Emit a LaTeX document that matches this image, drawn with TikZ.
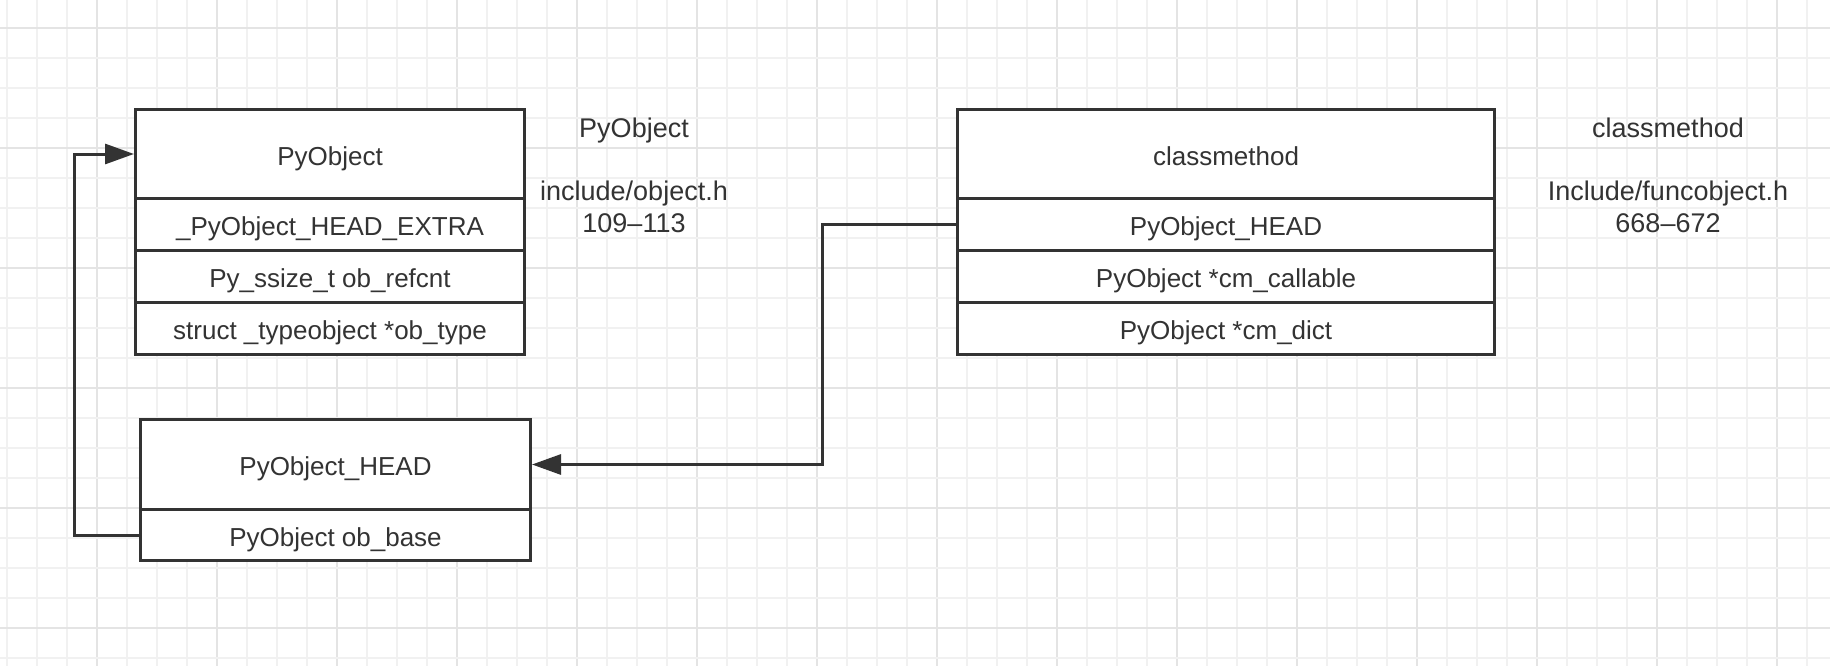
\documentclass[tikz,border=0pt]{standalone}
\usepackage{fontspec}
\setmainfont{Liberation Sans}
\usetikzlibrary{arrows.meta}
\definecolor{ink}{HTML}{333333}
\definecolor{gridminor}{HTML}{F1F1F1}
\definecolor{gridmajor}{HTML}{E4E4E4}
\tikzset{
  cell/.style={draw=ink, fill=white, line width=3pt, inner sep=0pt, anchor=north west,
    text=ink, font=\fontsize{26}{31}\selectfont, text height=22pt, text depth=0pt},
  note/.style={inner sep=0pt, anchor=base, text=ink, font=\fontsize{27}{32.5}\selectfont},
  conn/.style={draw=ink, line width=3pt, -{Triangle[length=29pt,width=20pt]}},
  wire/.style={draw=ink, line width=3pt}
}
\begin{document}
\begin{tikzpicture}[x=1pt,y=-1pt]
\useasboundingbox (0,0) rectangle (1830,666);
\fill[white] (0,0) rectangle (1830,666);
% grid
\foreach \i in {0,...,60} {
  \pgfmathtruncatemacro{\m}{mod(\i,4)}
  \ifnum\m=3
    \draw[gridmajor, line width=1.6pt] ({7+30*\i},0) -- ({7+30*\i},666);
  \else
    \draw[gridminor, line width=1.6pt] ({7+30*\i},0) -- ({7+30*\i},666);
  \fi
}
\foreach \j in {0,...,21} {
  \pgfmathtruncatemacro{\m}{mod(\j,4)}
  \ifnum\m=0
    \draw[gridmajor, line width=1.6pt] (0,{28+30*\j}) -- (1830,{28+30*\j});
  \else
    \draw[gridminor, line width=1.6pt] (0,{28+30*\j}) -- (1830,{28+30*\j});
  \fi
}
% PyObject box
\node[cell, minimum width=389pt, minimum height=89pt] (b1h) at (134,108) {PyObject};
\node[cell, minimum width=389pt, minimum height=52pt] (b1r1) at (134,197) {\_PyObject\_HEAD\_EXTRA};
\node[cell, minimum width=389pt, minimum height=52pt] (b1r2) at (134,249) {Py\_ssize\_t ob\_refcnt};
\node[cell, minimum width=389pt, minimum height=52pt] (b1r3) at (134,301) {struct \_typeobject *ob\_type};
% PyObject_HEAD box
\node[cell, minimum width=390pt, minimum height=90pt] (b2h) at (139,418) {PyObject\_HEAD};
\node[cell, minimum width=390pt, minimum height=51pt] (b2r1) at (139,508) {PyObject ob\_base};
% classmethod box
\node[cell, minimum width=537pt, minimum height=89pt] (b3h) at (956,108) {classmethod};
\node[cell, minimum width=537pt, minimum height=52pt] (b3r1) at (956,197) {PyObject\_HEAD};
\node[cell, minimum width=537pt, minimum height=52pt] (b3r2) at (956,249) {PyObject *cm\_callable};
\node[cell, minimum width=537pt, minimum height=52pt] (b3r3) at (956,301) {PyObject *cm\_dict};
% notes
\node[note] (n1a) at (634,137.5) {PyObject};
\node[note] (n1b) at (634,200) {include/object.h};
\node[note] (n1c) at (634,232) {109–113};
\node[note] (n2a) at (1668,137.5) {classmethod};
\node[note] (n2b) at (1668,200) {Include/funcobject.h};
\node[note] (n2c) at (1668,232) {668–672};
% connectors
\draw[conn] (b2r1.west) -- ++(-65,0) |- (b1h.west);
\draw[conn] (b3r1.west) -- ++(-134,0) |- (b2h.east);
\end{tikzpicture}
\end{document}
